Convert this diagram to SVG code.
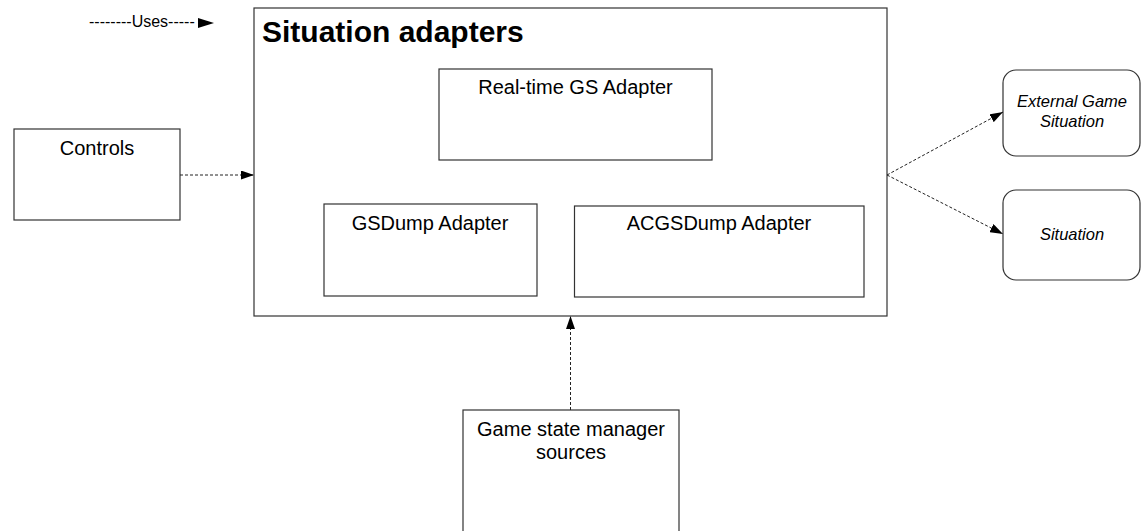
<svg xmlns="http://www.w3.org/2000/svg" width="1147" height="531" viewBox="0 0 1147 531">
  <defs>
    <marker id="arrow" viewBox="0 0 13 9" refX="13" refY="4.5" markerWidth="13" markerHeight="9" markerUnits="userSpaceOnUse" orient="auto">
      <path d="M0,0 L13,4.5 L0,9 Z" fill="#000"/>
    </marker>
    <style>
      .box { fill: #fff; stroke: #333; stroke-width: 1.2; }
      .label { font-family: "Liberation Sans", Arial, sans-serif; font-size: 20px; fill: #000; text-anchor: middle; }
      .ital { font-family: "Liberation Sans", Arial, sans-serif; font-size: 16.5px; font-style: italic; fill: #000; text-anchor: middle; }
      .title { font-family: "Liberation Sans", Arial, sans-serif; font-size: 30px; font-weight: bold; fill: #000; }
      .uses { stroke: #222; stroke-width: 1; stroke-dasharray: 3 2; fill: none; }
    </style>
  </defs>

  <rect width="1147" height="531" fill="#fff"/>

  <!-- legend -->
  <g id="legend">
    <text x="89" y="27" font-family="Liberation Sans, Arial, sans-serif" font-size="16" fill="#000">--------Uses-----</text>
    <path d="M198,18 L214,23 L198,28 Z" fill="#000"/>
  </g>

  <!-- container -->
  <g id="situation-adapters">
    <rect class="box" x="254" y="8" width="633" height="308"/>
    <text class="title" x="262" y="42">Situation adapters</text>
  </g>

  <g id="realtime-gs-adapter">
    <rect class="box" x="439" y="69" width="273" height="91"/>
    <text class="label" x="575.5" y="94">Real-time GS Adapter</text>
  </g>

  <g id="gsdump-adapter">
    <rect class="box" x="324" y="204" width="213" height="92"/>
    <text class="label" x="430" y="230">GSDump Adapter</text>
  </g>

  <g id="acgsdump-adapter">
    <rect class="box" x="574.5" y="206" width="289.5" height="91"/>
    <text class="label" x="719" y="230">ACGSDump Adapter</text>
  </g>

  <g id="controls">
    <rect class="box" x="14" y="129" width="166" height="91"/>
    <text class="label" x="97" y="155">Controls</text>
  </g>

  <g id="external-game-situation">
    <rect class="box" x="1003" y="70" width="137" height="86" rx="13"/>
    <text class="ital" x="1072" y="107">External Game</text>
    <text class="ital" x="1072" y="127">Situation</text>
  </g>

  <g id="situation">
    <rect class="box" x="1003" y="190" width="137" height="90" rx="13"/>
    <text class="ital" x="1072" y="240">Situation</text>
  </g>

  <g id="gsm-sources">
    <rect class="box" x="463" y="410" width="216" height="135"/>
    <text class="label" x="571" y="436">Game state manager</text>
    <text class="label" x="571" y="459">sources</text>
  </g>

  <!-- connectors -->
  <g id="connectors">
    <line class="uses" x1="180" y1="175" x2="254" y2="175" marker-end="url(#arrow)"/>
    <line class="uses" x1="887" y1="175" x2="1003" y2="112" marker-end="url(#arrow)"/>
    <line class="uses" x1="887" y1="175" x2="1003" y2="234" marker-end="url(#arrow)"/>
    <line class="uses" x1="570.5" y1="410" x2="570.5" y2="316" marker-end="url(#arrow)"/>
  </g>
</svg>
